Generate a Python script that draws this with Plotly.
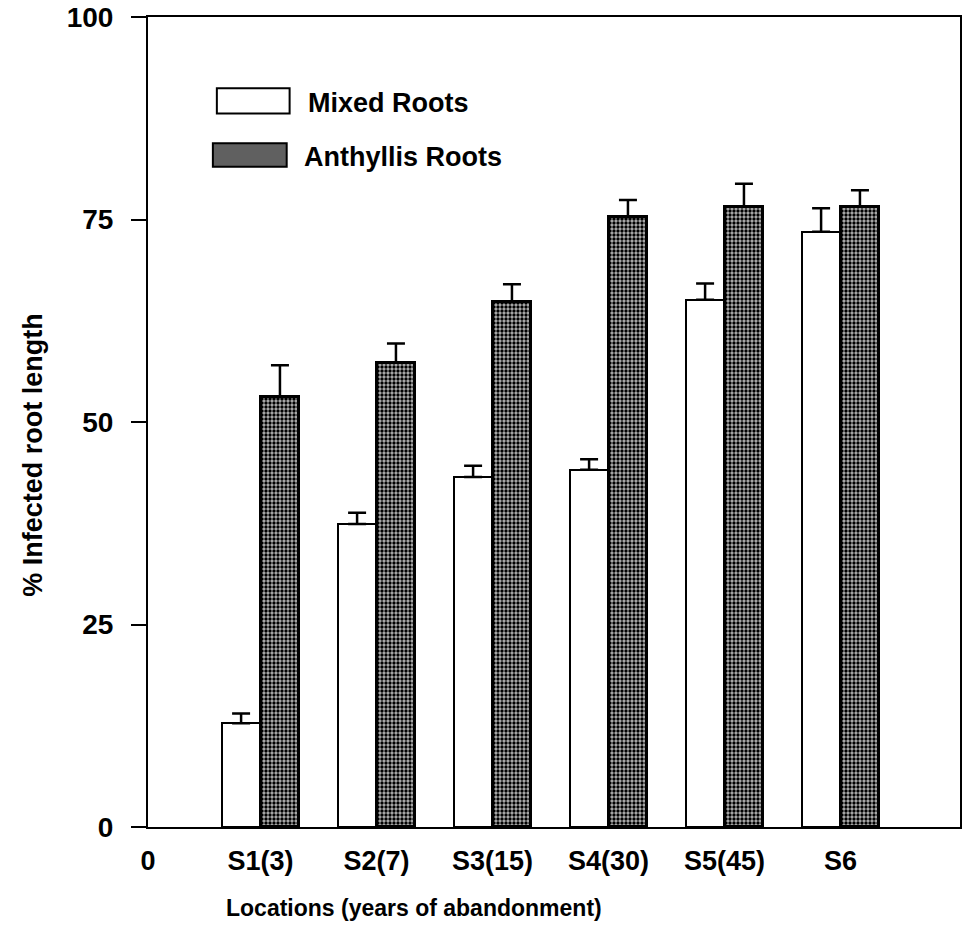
import plotly.graph_objects as go

categories = ["S1(3)", "S2(7)", "S3(15)", "S4(30)", "S5(45)", "S6"]
mixed = [12.8, 37.4, 43.2, 44.1, 65.1, 73.5]
mixed_err = [1.2, 1.4, 1.4, 1.3, 2.0, 2.9]
anthyllis = [53.1, 57.3, 64.8, 75.3, 76.6, 76.6]
anthyllis_err = [3.9, 2.4, 2.2, 2.1, 2.8, 2.0]
y_ticks = [0, 25, 50, 75, 100]

positions = list(range(1, len(categories) + 1))
bw = 0.335
font_main = "Liberation Sans, Arial, sans-serif"

fig = go.Figure()
fig.add_trace(go.Bar(
    x=positions, y=mixed, width=bw, offset=-bw, name="Mixed Roots",
    marker=dict(color="white", line=dict(color="black", width=2)),
    error_y=dict(type="data", array=mixed_err, arrayminus=[0] * len(mixed_err),
                 symmetric=False, color="black", thickness=2.5, width=9),
    showlegend=False,
))
fig.add_trace(go.Bar(
    x=positions, y=anthyllis, width=bw, offset=0, name="Anthyllis Roots",
    marker=dict(color="#606060", line=dict(color="black", width=3),
                pattern=dict(shape=".", fgcolor="#000000", bgcolor="#b4b4b4",
                             size=4, solidity=0.55, fillmode="replace")),
    error_y=dict(type="data", array=anthyllis_err, arrayminus=[0] * len(anthyllis_err),
                 symmetric=False, color="black", thickness=2.5, width=9),
    showlegend=False,
))

# manual legend
shapes = [
    dict(type="rect", xref="paper", yref="paper", x0=0.0848, x1=0.1744, y0=0.881, y1=0.912,
         fillcolor="white", line=dict(color="black", width=2)),
    dict(type="rect", xref="paper", yref="paper", x0=0.0799, x1=0.1708, y0=0.815, y1=0.844,
         fillcolor="#606060", line=dict(color="black", width=2)),
]
annotations = [
    dict(text="Mixed Roots", xref="paper", yref="paper", x=0.194, y=0.894,
         xanchor="left", yanchor="middle", showarrow=False,
         font=dict(family=font_main, size=27, color="black", weight="bold")),
    dict(text="Anthyllis Roots", xref="paper", yref="paper", x=0.190, y=0.827,
         xanchor="left", yanchor="middle", showarrow=False,
         font=dict(family=font_main, size=27, color="black", weight="bold")),
    dict(text="Locations (years of abandonment)", xref="paper", yref="paper",
         x=0.327, y=-0.1, xanchor="center", yanchor="middle", showarrow=False,
         font=dict(family=font_main, size=23, color="black", weight="bold")),
    dict(text="% Infected root length", xref="paper", yref="paper",
         x=-0.141, y=0.459, xanchor="center", yanchor="middle", showarrow=False,
         textangle=-90, font=dict(family=font_main, size=27, color="black", weight="bold")),
]

fig.update_layout(
    width=964, height=937,
    margin=dict(l=148, r=2, t=17, b=110),
    paper_bgcolor="white", plot_bgcolor="white",
    bargap=0, barmode="overlay",
    shapes=shapes, annotations=annotations,
    xaxis=dict(
        range=[0.03, 7.03],
        tickvals=[0.03] + positions, ticktext=["0"] + categories,
        ticks="", showgrid=False, zeroline=False,
        showline=True, linecolor="black", linewidth=2, mirror=True,
        tickfont=dict(family=font_main, size=27, color="black", weight="bold"),
        ticklabelstandoff=9,
    ),
    yaxis=dict(
        range=[0, 100], tickvals=y_ticks,
        ticks="outside", ticklen=15, tickwidth=2, tickcolor="black",
        showgrid=False, zeroline=False,
        showline=True, linecolor="black", linewidth=2, mirror=True,
        tickfont=dict(family=font_main, size=28, color="black", weight="bold"),
        ticklabelstandoff=12,
    ),
)

fig.write_html(
    "out.html",
    config={"displayModeBar": False},
    post_script="document.body.style.margin='0';document.body.style.overflow='hidden';",
)
